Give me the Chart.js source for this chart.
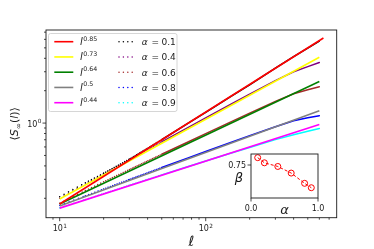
<!DOCTYPE html>
<html>
<head>
<meta charset="utf-8">
<script src="https://cdn.jsdelivr.net/npm/chart.js@4/dist/chart.umd.min.js"></script>
<style>
  body { margin: 0; background: #fff; }
  #wrap { position: relative; width: 374px; height: 249px; }
  #inset { position: absolute; left: 215px; top: 145px; }
</style>
</head>
<body>
<div id="wrap">
  <canvas id="main" width="374" height="249"></canvas>
  <canvas id="inset" width="120" height="75"></canvas>
</div>
<script>
// system sizes l where the curves were read
const ell = [10, 15, 20, 30, 50, 75, 100, 150, 200, 300, 400, 500, 600];

// <S_inf(l)> for each alpha
const alphaLabels = ["0.1", "0.4", "0.6", "0.8", "0.9"];
const alphaColors = ["#000000", "#800080", "#a52a2a", "#0000ff", "#00ffff"];
const S_a01 = [0.207, 0.279, 0.342, 0.462, 0.70, 0.99, 1.26, 1.78, 2.27, 3.25, 4.15, 4.98, 5.78];
const S_a04 = [0.200, 0.272, 0.337, 0.458, 0.668, 0.903, 1.116, 1.505, 1.857, 2.48, 3.00, 3.35, 3.65];
const S_a06 = [0.180, 0.236, 0.285, 0.370, 0.513, 0.664, 0.797, 1.032, 1.238, 1.590, 1.87, 2.04, 2.18];
const S_a08 = [0.172, 0.211, 0.244, 0.299, 0.386, 0.472, 0.544, 0.664, 0.764, 0.925, 1.05, 1.12, 1.17];
const S_a09 = [0.163, 0.195, 0.221, 0.264, 0.330, 0.393, 0.444, 0.527, 0.594, 0.702, 0.780, 0.840, 0.889];
const alphaSeries = [S_a01, S_a04, S_a06, S_a08, S_a09];

// power-law guides l^beta: exponent, colour, start / end points
const fitExps = ["0.85", "0.73", "0.64", "0.5", "0.44"];
const fitColors = ["#ff0000", "#ffff00", "#008000", "#808080", "#ff00ff"];
const fitL0 = [10, 10, 10, 10, 10];
const fitY0 = [0.177, 0.197, 0.177, 0.170, 0.162];
const fitL1 = [640, 600, 600, 600, 600];
const fitY1 = [6.17, 4.09, 2.43, 1.30, 0.970];

// inset: fitted exponent beta against alpha
const insetAlpha = [0.1, 0.2, 0.4, 0.6, 0.8, 0.9];
const insetBeta = [0.85, 0.78, 0.73, 0.64, 0.50, 0.44];

const FONT = "'DejaVu Sans', sans-serif";
const INK = "#1a1a1a";

function dotted(c) {
  const l = c.p0.parsed.x;
  if (l < 15) return [0.01, 5];
  if (l < 20) return [0.01, 3.4];
  if (l < 30) return [0.01, 2.4];
  if (l < 50) return [0.01, 1.7];
  return undefined;
}

const datasets = [];
alphaSeries.forEach((s, i) => {
  datasets.push({
    label: "α = " + alphaLabels[i],
    kind: "alpha",
    data: ell.map((l, j) => ({ x: l, y: s[j] })),
    borderColor: alphaColors[i],
    borderWidth: 1.5,
    borderCapStyle: "round",
    pointRadius: 0,
    tension: 0,
    segment: { borderDash: dotted },
    order: 1
  });
});
fitExps.forEach((e, i) => {
  datasets.push({
    label: "l^" + e,
    kind: "fit",
    data: [{ x: fitL0[i], y: fitY0[i] }, { x: fitL1[i], y: fitY1[i] }],
    borderColor: fitColors[i],
    borderWidth: 1.6,
    pointRadius: 0,
    order: 0
  });
});

function supText(ctx, base, sup, x, y, align, bf, sf, rise, baseItalic) {
  ctx.font = (baseItalic ? "italic " : "") + bf + "px " + FONT;
  const wb = ctx.measureText(base).width;
  ctx.font = sf + "px " + FONT;
  const ws = ctx.measureText(sup).width;
  let x0 = x;
  if (align === "center") x0 = x - (wb + ws) / 2;
  if (align === "right") x0 = x - (wb + ws);
  ctx.textAlign = "left";
  ctx.textBaseline = "alphabetic";
  ctx.font = (baseItalic ? "italic " : "") + bf + "px " + FONT;
  ctx.fillText(base, x0, y);
  ctx.font = sf + "px " + FONT;
  ctx.fillText(sup, x0 + wb + 0.4, y - rise);
}

function logTicks(min, max) {
  const out = [];
  for (let k = Math.floor(Math.log10(min)); k <= Math.ceil(Math.log10(max)); k++) {
    for (let m = 1; m <= 9; m++) {
      const v = m * Math.pow(10, k);
      if (v >= min * 0.999 && v <= max * 1.001) out.push({ v, major: m === 1, k });
    }
  }
  return out;
}

const decor = {
  id: "decor",
  afterDatasetsDraw(chart) {
    const ctx = chart.ctx;
    const a = chart.chartArea;
    const xs = chart.scales.x, ys = chart.scales.y;
    ctx.save();
    ctx.fillStyle = INK;
    ctx.strokeStyle = INK;

    // ticks
    ctx.lineWidth = 0.8;
    logTicks(xs.min, xs.max).forEach(t => {
      const px = xs.getPixelForValue(t.v);
      ctx.beginPath();
      ctx.moveTo(px, a.bottom);
      ctx.lineTo(px, a.bottom + (t.major ? 3.5 : 2));
      ctx.stroke();
      if (t.major) supText(ctx, "10", String(t.k), px, a.bottom + 13.5, "center", 8, 5.8, 3.6, false);
    });
    logTicks(ys.min, ys.max).forEach(t => {
      const py = ys.getPixelForValue(t.v);
      ctx.beginPath();
      ctx.moveTo(a.left, py);
      ctx.lineTo(a.left - (t.major ? 3.5 : 2), py);
      ctx.stroke();
      if (t.major) supText(ctx, "10", String(t.k), a.left - 5, py + 3.5, "right", 8, 5.8, 3.6, false);
    });

    // frame
    ctx.lineWidth = 0.9;
    ctx.strokeRect(a.left, a.top, a.right - a.left, a.bottom - a.top);

    // x title
    ctx.font = "italic 14px " + FONT;
    ctx.textAlign = "center";
    ctx.textBaseline = "alphabetic";
    ctx.fillText("ℓ", (a.left + a.right) / 2, 246);

    // y title  <S_inf(l)>
    ctx.save();
    ctx.translate(18, (a.top + a.bottom) / 2);
    ctx.rotate(-Math.PI / 2);
    const parts = [
      ["⟨", "11px", 0], ["S", "italic 11px", 0], ["∞", "7.5px", 2.5],
      ["(", "11px", 0], ["l", "italic 11px", 0], [")", "11px", 0], ["⟩", "11px", 0]
    ];
    let tw = 0;
    parts.forEach(p => { ctx.font = p[1] + " " + FONT; tw += ctx.measureText(p[0]).width; });
    let cx = -tw / 2;
    ctx.textAlign = "left";
    parts.forEach(p => {
      ctx.font = p[1] + " " + FONT;
      ctx.fillText(p[0], cx, 0 + p[2]);
      cx += ctx.measureText(p[0]).width;
    });
    ctx.restore();

    // legend
    const bx = 48.5, by = 33.5, bw = 128.5, bh = 78;
    ctx.fillStyle = "rgba(255,255,255,0.85)";
    ctx.strokeStyle = "#cccccc";
    ctx.lineWidth = 0.8;
    ctx.beginPath();
    ctx.roundRect(bx, by, bw, bh, 2);
    ctx.fill();
    ctx.stroke();
    const fits = chart.data.datasets.filter(d => d.kind === "fit");
    const alps = chart.data.datasets.filter(d => d.kind === "alpha");
    fits.forEach((d, i) => {
      const ry = 41.7 + i * 15.25;
      ctx.strokeStyle = d.borderColor;
      ctx.lineWidth = 1.6;
      ctx.beginPath();
      ctx.moveTo(54.3, ry);
      ctx.lineTo(73.3, ry);
      ctx.stroke();
      ctx.fillStyle = INK;
      const [b, s] = d.label.split("^");
      supText(ctx, b, s, 80, ry + 3.3, "left", 10, 6.3, 4.4, true);
    });
    alps.forEach((d, i) => {
      const ry = 41.7 + i * 15.25;
      ctx.fillStyle = d.borderColor;
      for (let k = 0; k < 4; k++) {
        ctx.beginPath();
        ctx.arc(119 + k * 4.4, ry, 0.75, 0, Math.PI * 2);
        ctx.fill();
      }
      ctx.fillStyle = INK;
      ctx.textAlign = "left";
      ctx.font = "italic 9px " + FONT;
      ctx.fillText("α", 141.7, ry + 3.3);
      ctx.font = "9px " + FONT;
      ctx.fillText("=", 151.5, ry + 3.3);
      ctx.fillText(d.label.split("= ")[1], 161.5, ry + 3.3);
    });
    ctx.restore();
  }
};

new Chart(document.getElementById("main"), {
  type: "line",
  data: { datasets },
  options: {
    responsive: false,
    devicePixelRatio: 1,
    animation: false,
    layout: { padding: { left: 46, top: 30, right: 37.3, bottom: 31.3 } },
    plugins: { legend: { display: false }, tooltip: { enabled: false } },
    scales: {
      x: { type: "logarithmic", display: false, min: 8.06, max: 789 },
      y: { type: "logarithmic", display: false, min: 0.132, max: 7.33 }
    }
  },
  plugins: [decor]
});

// inset chart
const insetDecor = {
  id: "insetDecor",
  beforeDatasetsDraw(chart) {
    const c = chart.ctx, a = chart.chartArea;
    c.save();
    c.fillStyle = "#fff";
    c.fillRect(a.left, a.top, a.right - a.left, a.bottom - a.top);
    c.restore();
  },
  afterDatasetsDraw(chart) {
    const c = chart.ctx, a = chart.chartArea;
    const xs = chart.scales.x, ys = chart.scales.y;
    c.save();
    c.strokeStyle = INK;
    c.fillStyle = INK;
    c.lineWidth = 0.9;
    c.strokeRect(a.left, a.top, a.right - a.left, a.bottom - a.top);
    c.lineWidth = 0.8;
    c.font = "8px " + FONT;
    [0, 1].forEach(v => {
      const px = xs.getPixelForValue(v);
      c.beginPath(); c.moveTo(px, a.bottom); c.lineTo(px, a.bottom + 3.5); c.stroke();
      c.textAlign = "center";
      c.fillText(v.toFixed(1), px, a.bottom + 13);
    });
    const py = ys.getPixelForValue(0.75);
    c.beginPath(); c.moveTo(a.left, py); c.lineTo(a.left - 3.5, py); c.stroke();
    c.textAlign = "right";
    c.fillText("0.75", a.left - 5, py + 3);
    c.font = "italic 13px " + FONT;
    c.textAlign = "center";
    c.fillText("α", (a.left + a.right) / 2, a.bottom + 16);
    c.fillText("β", a.left - 12, py + 17);
    c.restore();
  }
};

new Chart(document.getElementById("inset"), {
  type: "line",
  data: {
    datasets: [{
      data: insetAlpha.map((x, i) => ({ x, y: insetBeta[i] })),
      borderColor: "#ff0000",
      borderWidth: 1,
      borderDash: [3, 2],
      pointRadius: 3,
      pointBorderWidth: 1,
      pointBorderColor: "#ff0000",
      pointBackgroundColor: "rgba(0,0,0,0)",
      tension: 0
    }]
  },
  options: {
    responsive: false,
    devicePixelRatio: 1,
    animation: false,
    layout: { padding: { left: 36, top: 9, right: 17, bottom: 22 } },
    plugins: { legend: { display: false }, tooltip: { enabled: false } },
    scales: {
      x: { type: "linear", display: false, min: 0, max: 1 },
      y: { type: "linear", display: false, min: 0.3, max: 0.9 }
    }
  },
  plugins: [insetDecor]
});
</script>
</body>
</html>
